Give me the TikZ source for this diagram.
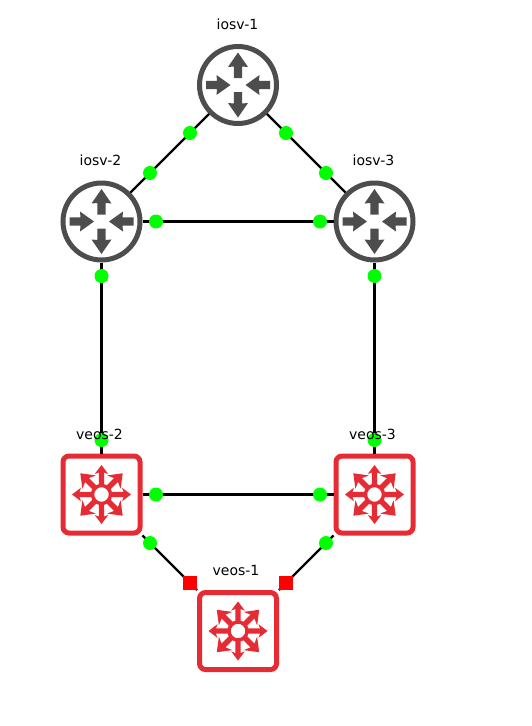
\documentclass[tikz,border=0pt]{standalone}
\usepackage{fontspec}
\setmainfont{DejaVu Sans}
\definecolor{rgray}{HTML}{4D4D4D}
\definecolor{sred}{HTML}{E52B33}
\tikzset{
  x=1pt,y=-1pt,
  router/.style={circle,draw=rgray,fill=white,line width=5pt,minimum size=77pt,inner sep=0pt},
  switchbox/.style={rectangle,rounded corners=6pt,draw=sred,fill=white,line width=5pt,minimum size=77pt,inner sep=0pt},
  link/.style={draw=black,line width=2.4pt},
  greendot/.style={circle,fill=green,minimum size=14pt,inner sep=0pt},
  redsq/.style={rectangle,fill=red,minimum size=14pt,inner sep=0pt},
  lab/.style={font=\fontsize{14}{16}\selectfont,text=black,inner sep=0pt},
  routericon/.pic={
    \foreach \a in {0,180}{
      \fill[rgray,rotate=\a] (32,-4.2)--(21,-4.2)--(21.5,-10)--(7.5,0)--(21.5,10)--(21,4.2)--(32,4.2)--cycle;
    }
    \foreach \a in {90,270}{
      \fill[rgray,rotate=\a] (7,-4.2)--(18.5,-4.2)--(18,-10)--(32.5,0)--(18,10)--(18.5,4.2)--(7,4.2)--cycle;
    }
  },
  switchicon/.pic={
    \foreach \a in {0,90,180,270}{
      \fill[sred,rotate=\a] (9,-2.7)--(22,-2.7)--(20.5,-6.8)--(29.5,0)--(20.5,6.8)--(22,2.7)--(9,2.7)--cycle;
    }
    \foreach \a in {45,135,225,315}{
      \fill[sred,rotate=\a] (9,-2.7)--(20.5,-2.7)--(17.5,-9.5)--(30,0)--(17.5,9.5)--(20.5,2.7)--(9,2.7)--cycle;
    }
    \draw[sred,line width=3.4pt,fill=white] (0,0) circle (9);
  },
}
\begin{document}
\begin{tikzpicture}
\useasboundingbox (0,0) rectangle (532,726);
\fill[white] (0,0) rectangle (532,726);
\node[router] (r1) at (238,85) {};
\node[router] (r2) at (101.5,221.5) {};
\node[router] (r3) at (374.5,221.5) {};
\node[switchbox] (s2) at (101.5,494.5) {};
\node[switchbox] (s3) at (374.5,494.5) {};
\node[switchbox] (s1) at (238,631) {};
\pic at (r1) {routericon};
\pic at (r2) {routericon};
\pic at (r3) {routericon};
\pic at (s1) {switchicon};
\pic at (s2) {switchicon};
\pic at (s3) {switchicon};
\draw[link] (r1) -- (r2);
\draw[link] (r1) -- (r3);
\draw[link] (r2) -- (r3);
\draw[link] (r2) -- (s2);
\draw[link] (r3) -- (s3);
\draw[link] (s2) -- (s3);
\draw[link] (s2) -- (s1);
\draw[link] (s3) -- (s1);
\node[greendot] (d1) at (190,133) {};
\node[greendot] (d2) at (150,173) {};
\node[greendot] (d3) at (286,133) {};
\node[greendot] (d4) at (326,173) {};
\node[greendot] (d5) at (156,221.5) {};
\node[greendot] (d6) at (320,221.5) {};
\node[greendot] (d7) at (101.5,276) {};
\node[greendot] (d8) at (374.5,276) {};
\node[greendot] (d9) at (101.5,440) {};
\node[greendot] (d10) at (374.5,440) {};
\node[greendot] (d11) at (156,494.5) {};
\node[greendot] (d12) at (320,494.5) {};
\node[greendot] (d13) at (150,543) {};
\node[greendot] (d14) at (326,543) {};
\node[redsq] (q1) at (190,583) {};
\node[redsq] (q2) at (286,583) {};
\node[lab] (l1) at (237.5,24.5) {iosv-1};
\node[lab] (l2) at (100.5,160.5) {iosv-2};
\node[lab] (l3) at (373.5,160.5) {iosv-3};
\node[lab] (l4) at (99.5,434.5) {veos-2};
\node[lab] (l5) at (372.5,434.5) {veos-3};
\node[lab] (l6) at (236,570.5) {veos-1};
\end{tikzpicture}
\end{document}
